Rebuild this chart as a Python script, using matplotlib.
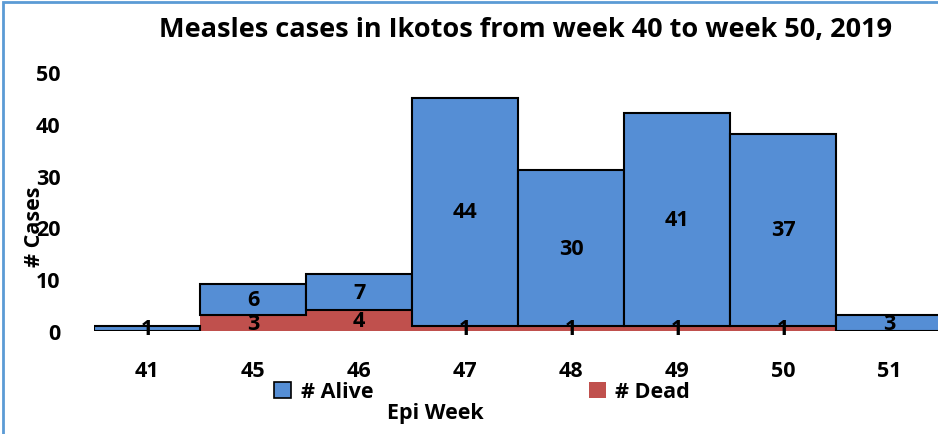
import matplotlib.pyplot as plt
from matplotlib.patches import Rectangle, Patch

# Data
weeks = ["41", "45", "46", "47", "48", "49", "50", "51"]
dead = [0, 3, 4, 1, 1, 1, 1, 0]
alive = [1, 6, 7, 44, 30, 41, 37, 3]

BLUE = "#558ED5"
RED = "#C0504D"
FS = 15.5

plt.rcParams['font.family'] = ['Open Sans', 'DejaVu Sans']
plt.rcParams['font.weight'] = 'bold'

fig = plt.figure(figsize=(9.38, 4.35), dpi=100)
ax = fig.add_axes([94 / 938, 1 - 332 / 435, 848 / 938, 259 / 435])

x = range(len(weeks))
ax.bar(x, dead, width=1.0, color=RED, edgecolor='none')
ax.bar(x, alive, width=1.0, bottom=dead, color=BLUE,
       edgecolor='black', linewidth=1.5)

# Value labels in the middle of each segment
for i in x:
    if dead[i] > 0:
        ax.text(i, dead[i] / 2, str(dead[i]), ha='center', va='center',
                fontsize=FS, fontweight='bold')
    ax.text(i, dead[i] + alive[i] / 2, str(alive[i]), ha='center', va='center',
            fontsize=FS, fontweight='bold')

ax.set_xlim(-0.5, 7.5)
ax.set_ylim(0, 50)
ax.set_yticks([0, 10, 20, 30, 40, 50])
ax.set_xticks(list(x))
ax.set_xticklabels(weeks)
ax.tick_params(axis='both', length=0, labelsize=FS)
ax.tick_params(axis='x', pad=21)
ax.tick_params(axis='y', pad=24)
for lbl in ax.get_xticklabels() + ax.get_yticklabels():
    lbl.set_fontweight('bold')
for s in ax.spines.values():
    s.set_visible(False)
ax.patch.set_alpha(0)

fig.text(526 / 938, 1 - 30 / 435, "Measles cases in Ikotos from week 40 to week 50, 2019",
         ha='center', va='center', fontsize=19.5, fontweight='bold')
fig.text(435 / 938, 1 - 414 / 435, "Epi Week", ha='center', va='center',
         fontsize=FS, fontweight='bold')
fig.text(35 / 938, 1 - 227 / 435, "# Cases", ha='center', va='center',
         rotation=90, fontsize=FS, fontweight='bold')

handles = [Patch(facecolor=BLUE, edgecolor='black', linewidth=1.2, label='# Alive'),
           Patch(facecolor=RED, edgecolor='none', label='# Dead')]
fig.legend(handles=handles, loc='center', bbox_to_anchor=(482 / 938, 1 - 393 / 435),
           ncol=2, frameon=False, prop={'size': FS, 'weight': 'bold'},
           handlelength=0.8, handleheight=0.8, handletextpad=0.45, columnspacing=10.0)

# Chart-area border (only left and top fall inside the image)
fig.patches.append(Rectangle((3 / 938, -0.05), 1.2, 1 - 3 / 435 + 0.05,
                             transform=fig.transFigure, fill=False,
                             edgecolor='#5B9BD5', linewidth=2, clip_on=False))

fig.savefig("out.png", dpi=100)
